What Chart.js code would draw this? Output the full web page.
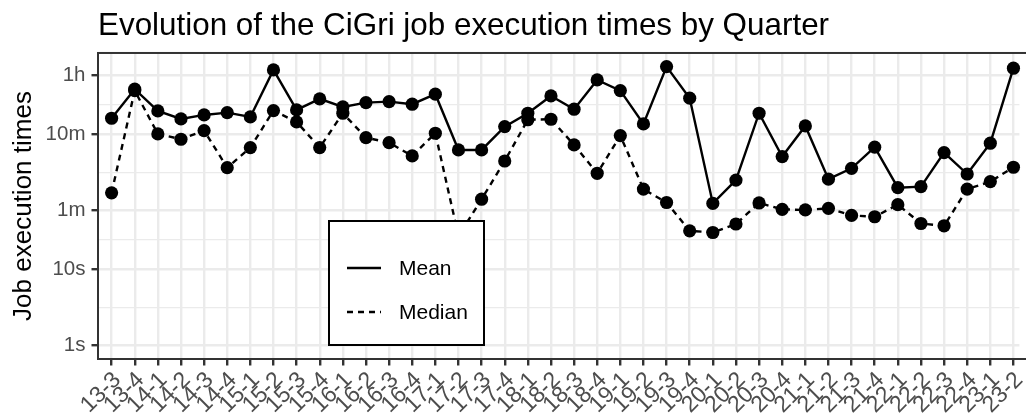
<!DOCTYPE html>
<html>
<head>
<meta charset="utf-8">
<script src="https://cdn.jsdelivr.net/npm/chart.js@4.4.1/dist/chart.umd.min.js"></script>
<style>
html,body{margin:0;padding:0;background:#ffffff;overflow:hidden;}
canvas{display:block;}
</style>
</head>
<body>
<canvas id="c" width="1026" height="416"></canvas>
<script>
// ---- data (seconds) ----
const categories = ['13-3','13-4','14-1','14-2','14-3','14-4','15-1','15-2','15-3','15-4',
  '16-1','16-2','16-3','16-4','17-1','17-2','17-3','17-4','18-1','18-2',
  '18-3','18-4','19-1','19-2','19-3','19-4','20-1','20-2','20-3','20-4',
  '21-1','21-2','21-3','21-4','22-1','22-2','22-3','22-4','23-1','23-2'];
const meanSeconds = [973, 2340, 1213, 953, 1075, 1153, 1012, 4198, 1251, 1745,
  1370, 1560, 1608, 1487, 2013, 373, 373, 755, 1130, 1910,
  1278, 3100, 2243, 819, 4637, 1783, 74, 150, 1132, 305,
  771, 154, 214, 405, 119, 123, 344, 180, 457, 4418];
const medianSeconds = [102, 2243, 605, 515, 669, 218, 400, 1225, 870, 400,
  1132, 541, 465, 311, 618, 27.6, 84, 267, 930, 944,
  434, 184, 575, 114, 76, 32.3, 30.7, 39.7, 75, 61.8,
  60.7, 63.7, 51.5, 49.4, 71.3, 40.3, 37.6, 114, 143, 221];
const yTickValues = [1, 10, 60, 600, 3600];
const yTickLabels = ['1s', '10s', '1m', '10m', '1h'];
const seriesLabels = ['Mean', 'Median'];
const chartTitle = 'Evolution of the CiGri job execution times by Quarter';
const yAxisTitle = 'Job execution times';

// minor grid lines: geometric midpoints between major breaks (ggplot log scale)
const yMinorValues = yTickValues.slice(1).map((v, i) => Math.sqrt(v * yTickValues[i]));

const FONT = "'Liberation Sans', Arial, Helvetica, sans-serif";
Chart.defaults.font.family = FONT;

const legendBox = {
  id: 'legendBox',
  afterDatasetsDraw(chart) {
    const ctx = chart.ctx;
    const x0 = 329, y0 = 221, w = 155, h = 124;
    ctx.save();
    ctx.fillStyle = '#ffffff';
    ctx.fillRect(x0, y0, w, h);
    ctx.strokeStyle = '#000000';
    ctx.lineWidth = 2;
    ctx.strokeRect(x0, y0, w, h);
    const rows = [268, 312];
    chart.data.datasets.forEach((ds, i) => {
      const y = rows[i];
      ctx.beginPath();
      ctx.setLineDash(ds.borderDash || []);
      ctx.strokeStyle = '#000000';
      ctx.lineWidth = ds.borderWidth;
      ctx.moveTo(347, y);
      ctx.lineTo(381, y);
      ctx.stroke();
      ctx.setLineDash([]);
      ctx.fillStyle = '#000000';
      ctx.font = '21px ' + FONT;
      ctx.textBaseline = 'middle';
      ctx.textAlign = 'left';
      ctx.fillText(ds.label, 399, y + 1);
    });
    ctx.restore();
  }
};

const panelBorder = {
  id: 'panelBorder',
  afterDraw(chart) {
    const a = chart.chartArea;
    const ctx = chart.ctx;
    ctx.save();
    ctx.strokeStyle = '#333333';
    ctx.lineWidth = 2;
    ctx.strokeRect(a.left, a.top, a.right - a.left + 20, a.bottom - a.top);
    ctx.restore();
  }
};

const mkData = arr => categories.map((c, i) => ({ x: i, y: arr[i] }));

new Chart(document.getElementById('c'), {
  type: 'line',
  data: {
    datasets: [
      {
        label: seriesLabels[0],
        data: mkData(meanSeconds),
        borderColor: '#000000',
        backgroundColor: '#000000',
        pointBackgroundColor: '#000000',
        pointBorderWidth: 0,
        pointRadius: 6.6,
        borderWidth: 2.4,
        tension: 0,
        clip: false
      },
      {
        label: seriesLabels[1],
        data: mkData(medianSeconds),
        borderColor: '#000000',
        backgroundColor: '#000000',
        pointBackgroundColor: '#000000',
        pointBorderWidth: 0,
        pointRadius: 6.6,
        borderWidth: 2.4,
        borderDash: [6, 5],
        tension: 0,
        clip: false
      }
    ]
  },
  options: {
    responsive: false,
    animation: false,
    events: [],
    devicePixelRatio: 1,
    layout: { padding: { left: 0, right: 0, top: 0, bottom: 0 } },
    plugins: {
      legend: { display: false },
      tooltip: { enabled: false },
      title: {
        display: true,
        text: chartTitle,
        align: 'start',
        fullSize: false,
        color: '#000000',
        font: { size: 31.4, weight: 'normal', family: FONT },
        padding: { top: 7.3, bottom: 8 }
      }
    },
    scales: {
      x: {
        type: 'linear',
        bounds: 'data',
        min: -0.588,
        max: 39.258,
        afterBuildTicks: s => { s.ticks = categories.map((c, i) => ({ value: i })); },
        afterFit: s => { s.height = 57; s.paddingLeft = 0; s.paddingRight = 0; },
        ticks: {
          autoSkip: false,
          maxRotation: 45,
          minRotation: 45,
          padding: 1.2,
          labelOffset: 5.8,
          color: '#4D4D4D',
          font: { size: 23, family: FONT },
          callback: v => (categories[v] !== undefined ? categories[v] : '')
        },
        grid: {
          color: '#EBEBEB',
          lineWidth: 2.4,
          tickColor: '#333333',
          tickWidth: 2.4,
          tickLength: 6.5
        },
        border: { display: false }
      },
      y: {
        type: 'logarithmic',
        bounds: 'data',
        min: 0.6687,
        max: 7003,
        afterBuildTicks: s => {
          s.ticks = yTickValues.map(v => ({ value: v }))
            .concat(yMinorValues.map(v => ({ value: v, minor: true })));
        },
        afterFit: s => { s.width = 98; },
        ticks: {
          autoSkip: false,
          padding: 6,
          color: '#4D4D4D',
          font: { size: 20.5, family: FONT },
          callback: v => { const i = yTickValues.indexOf(v); return i >= 0 ? yTickLabels[i] : ''; }
        },
        grid: {
          color: '#EBEBEB',
          lineWidth: c => (c.tick && c.tick.minor ? 1.2 : 2.4),
          tickColor: c => (c.tick && c.tick.minor ? 'rgba(0,0,0,0)' : '#333333'),
          tickWidth: 2.4,
          tickLength: 6.5
        },
        border: { display: false },
        title: {
          display: true,
          text: yAxisTitle,
          color: '#000000',
          font: { size: 26, family: FONT },
          padding: { top: 8, bottom: 0 }
        }
      }
    }
  },
  plugins: [legendBox, panelBorder]
});
</script>
</body>
</html>
